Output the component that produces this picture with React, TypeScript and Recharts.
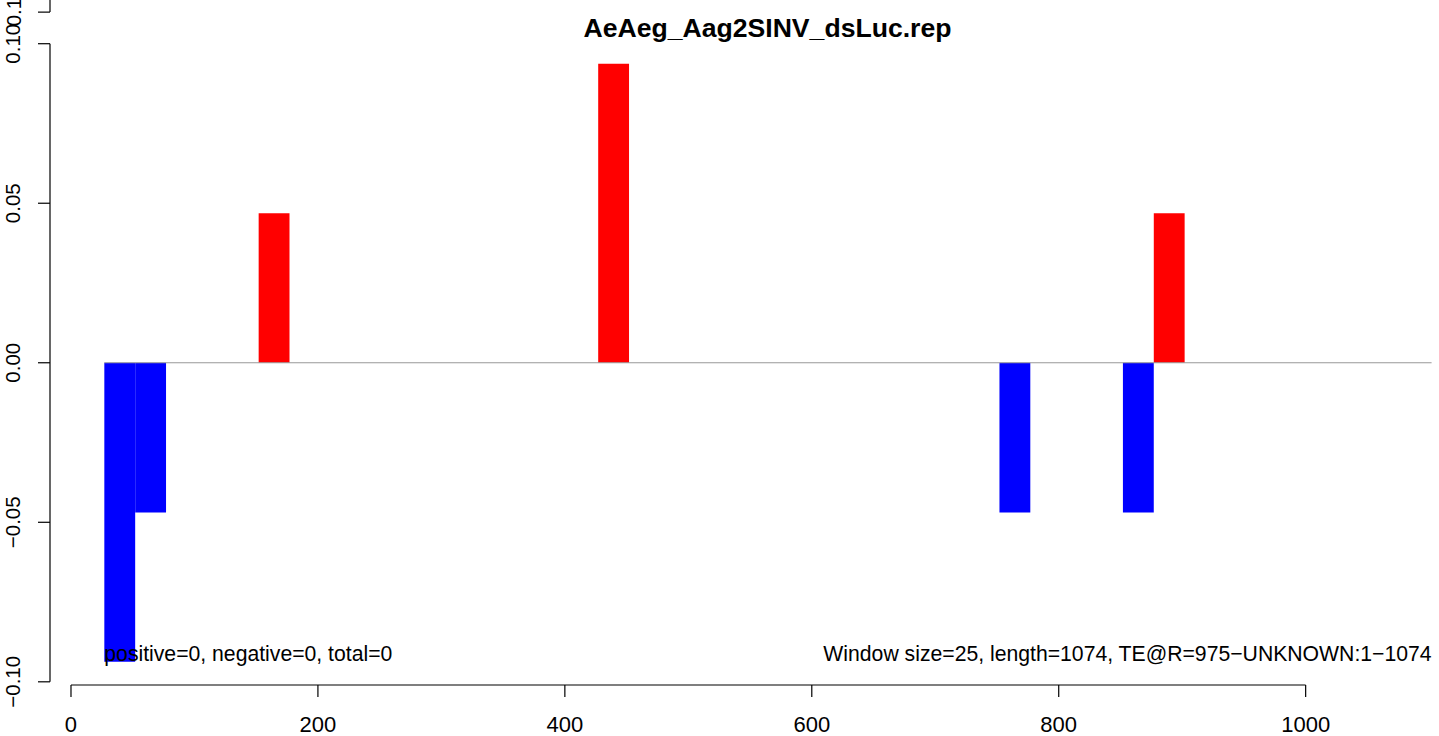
import { ComposedChart, Bar, Cell, XAxis, YAxis, ReferenceLine, ReferenceDot } from 'recharts';

// window starts (1-based) and score per 25-bp window
const windowSize = 25;
const windowStarts = [27, 52, 152, 427, 752, 852, 877];
const windowScores = [-0.0937, -0.0469, 0.0469, 0.0937, -0.0469, -0.0469, 0.0469];

const xTicks = [0, 200, 400, 600, 800, 1000];
const yTicks = [-0.1, -0.05, 0, 0.05, 0.1];
const yTickLabels = ['\u22120.10', '\u22120.05', '0.00', '0.05', '0.10'];
// second overlaid axis leaves one stray tick at the top
const topTick = 0.1099;
const topTickLabel = '0.1';

const zeroLineRange = [27, 1102];
const title = 'AeAeg_Aag2SINV_dsLuc.rep';
const leftNote = 'positive=0, negative=0, total=0';
const rightNote = 'Window size=25, length=1074, TE@R=975\u2212UNKNOWN:1\u22121074';
const noteY = -0.0911;

const xDomain = [-17, 1108];
const yDomain = [-0.101, 0.1137];

const W = 1439;
const H = 736;
const plotLeft = 50;
const plotBottomGap = 51;
const pxPerUnit = (W - plotLeft) / (xDomain[1] - xDomain[0]);
// keep just under the band so recharts doesn't shrink bars to 90%
const barPx = windowSize * pxPerUnit - 0.02;

const font = '"Liberation Sans", Arial, Helvetica, sans-serif';

const data = windowStarts.map((s, i) => ({ center: s + windowSize / 2, score: windowScores[i] }));

const XTick = (props: any) => {
  const { x, y, payload } = props;
  return (
    <text x={x} y={y + 15.7} textAnchor="middle" fontSize={22} fontFamily={font} fill="#000">
      {payload.value}
    </text>
  );
};

const YTick = (props: any) => {
  const { x, y, payload } = props;
  const i = yTicks.indexOf(payload.value);
  const label = i >= 0 ? yTickLabels[i] : topTickLabel;
  return (
    <text x={x} y={y} transform={`rotate(-90, ${x}, ${y})`} textAnchor="middle" fontSize={20.5} fontFamily={font} fill="#000">
      {label}
    </text>
  );
};

const note = (text: string, anchor: 'start' | 'end') => (p: any) => {
  const vb = p.viewBox || {};
  return (
    <text x={vb.x} y={vb.y + 7.5} textAnchor={anchor} fontSize={21.2} fontFamily={font} fill="#000">
      {text}
    </text>
  );
};

export default function App() {
  return (
    <div style={{ position: 'absolute', left: 0, top: 0, width: W, height: H, background: '#fff' }}>
      <ComposedChart
        width={W}
        height={H}
        data={data}
        margin={{ top: 0, right: 0, bottom: 0, left: 0 }}
        barGap={0}
        barCategoryGap={0}
      >
        <XAxis
          dataKey="center"
          type="number"
          domain={xDomain}
          allowDataOverflow
          ticks={xTicks}
          interval={0}
          height={plotBottomGap}
          axisLine={false}
          tickLine={{ stroke: '#000', strokeWidth: 1.2 }}
          tickSize={12}
          tickMargin={19}
          tick={<XTick />}
        />
        <YAxis
          type="number"
          domain={yDomain}
          allowDataOverflow
          ticks={[...yTicks, topTick]}
          interval={0}
          width={plotLeft}
          axisLine={false}
          tickLine={{ stroke: '#000', strokeWidth: 1.2 }}
          tickSize={12}
          tickMargin={17.5}
          tick={<YTick />}
        />
        <Bar dataKey="score" barSize={barPx} isAnimationActive={false}>
          {data.map((d, i) => (
            <Cell key={i} fill={d.score > 0 ? '#FF0000' : '#0000FF'} />
          ))}
        </Bar>
        <ReferenceLine
          segment={[{ x: zeroLineRange[0], y: 0 }, { x: zeroLineRange[1], y: 0 }]}
          stroke="#999"
          strokeWidth={1.2}
        />
        <ReferenceLine
          segment={[{ x: xTicks[0], y: yDomain[0] }, { x: xTicks[xTicks.length - 1], y: yDomain[0] }]}
          stroke="#000"
          strokeWidth={1.2}
        />
        <ReferenceLine
          segment={[{ x: xDomain[0], y: yTicks[0] }, { x: xDomain[0], y: yTicks[yTicks.length - 1] }]}
          stroke="#000"
          strokeWidth={1.2}
        />
        <ReferenceLine
          segment={[{ x: xDomain[0], y: topTick }, { x: xDomain[0], y: yDomain[1] }]}
          stroke="#000"
          strokeWidth={1.2}
        />
        <ReferenceDot x={zeroLineRange[0]} y={noteY} r={0} fill="none" stroke="none"
          label={{ position: 'right', offset: 0, content: note(leftNote, 'start') }} />
        <ReferenceDot x={zeroLineRange[1]} y={noteY} r={0} fill="none" stroke="none"
          label={{ position: 'left', offset: 0, content: note(rightNote, 'end') }} />
        <text x={767.5} y={37} textAnchor="middle" fontSize={26.6} fontWeight="bold" fontFamily={font} fill="#000">
          {title}
        </text>
      </ComposedChart>
    </div>
  );
}
